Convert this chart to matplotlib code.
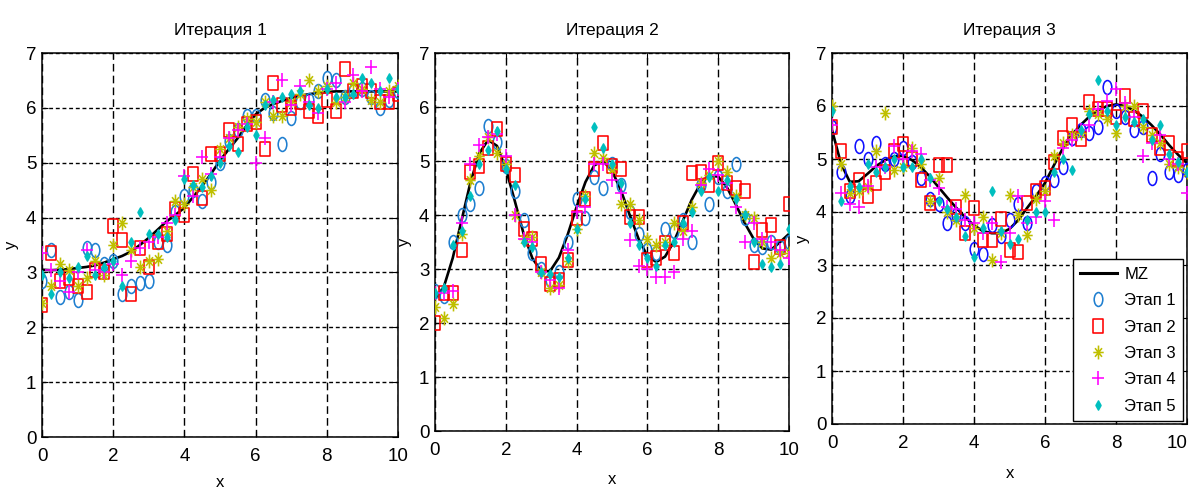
import matplotlib
matplotlib.use("Agg")
import matplotlib.pyplot as plt
import numpy as np
from matplotlib import font_manager
from matplotlib.path import Path
from matplotlib.markers import MarkerStyle
from matplotlib.lines import Line2D

installed = {f.name for f in font_manager.fontManager.ttflist}
main_font = 'Liberation Sans Narrow' if 'Liberation Sans Narrow' in installed else 'Liberation Sans'
plt.rcParams['font.family'] = [main_font, 'DejaVu Sans']

# общая сетка по x
x = np.linspace(0, 10, 41)

titles = ["Итерация 1", "Итерация 2", "Итерация 3"]
labels = ["Этап 1", "Этап 2", "Этап 3", "Этап 4", "Этап 5"]

# итерация 1
mz1 = [3.05, 3.04, 3.05, 3.06, 3.08, 3.10, 3.13, 3.18, 3.24, 3.30, 3.38, 3.50, 3.63, 3.78, 3.93, 4.05,
       4.18, 4.38, 4.58, 4.80, 5.04, 5.25, 5.45, 5.68, 5.88, 6.00, 6.07, 6.13, 6.18, 6.22, 6.25, 6.27,
       6.29, 6.30, 6.30, 6.30, 6.30, 6.30, 6.30, 6.30, 6.30]
s1_1 = [2.85, 3.40, 2.55, 2.65, 2.50, 3.45, 3.40, 3.15, 3.20, 2.60, 2.75, 2.80, 2.85, 3.55, 3.50, 4.10,
        4.40, 4.50, 4.30, 4.65, 5.00, 5.40, 5.60, 5.85, 5.85, 6.15, 5.90, 5.35, 5.82, 6.10, 6.15, 6.30,
        6.55, 6.50, 6.20, 6.30, 6.35, 6.20, 6.00, 6.15, 6.30]
s1_2 = [2.40, 3.35, 2.85, 2.90, 2.75, 2.65, 3.05, 3.00, 3.85, 3.60, 2.60, 3.45, 3.10, 3.55, 3.70, 4.15,
        4.05, 4.80, 4.36, 5.15, 5.15, 5.60, 5.35, 5.70, 5.75, 5.25, 6.45, 6.05, 6.00, 6.10, 5.95, 5.85,
        6.15, 5.95, 6.70, 6.30, 6.40, 6.30, 6.10, 6.10, 6.25]
s1_3 = [2.45, 2.75, 3.15, 3.05, 2.75, 2.90, 3.20, 2.95, 3.50, 3.90, 3.40, 3.10, 3.20, 3.25, 3.75, 4.30,
        4.25, 4.55, 4.70, 4.50, 5.25, 5.45, 5.65, 5.80, 5.75, 6.10, 5.85, 5.85, 6.10, 6.25, 6.50, 6.30,
        6.40, 6.10, 6.20, 6.45, 6.35, 6.15, 6.10, 6.30, 6.40]
s1_4 = [3.35, 3.05, 2.85, 2.65, 3.00, 3.40, 3.05, 3.00, 3.15, 2.95, 3.20, 3.45, 3.55, 3.65, 3.90, 4.05,
        4.75, 4.40, 5.10, 4.80, 5.10, 5.45, 5.60, 5.70, 5.00, 5.45, 6.10, 6.50, 6.05, 6.40, 6.10, 5.90,
        6.35, 6.45, 6.10, 6.60, 6.30, 6.75, 6.35, 6.20, 6.35]
s1_5 = [2.95, 2.60, 3.00, 2.90, 3.10, 3.30, 2.95, 3.10, 3.20, 2.75, 3.55, 4.10, 3.70, 3.70, 3.65, 3.95,
        4.70, 4.60, 4.55, 4.75, 5.00, 5.30, 5.20, 5.65, 5.50, 6.05, 6.15, 6.20, 6.25, 6.30, 6.05, 6.00,
        6.35, 6.20, 6.20, 6.25, 6.55, 6.45, 6.30, 6.55, 6.35]

# итерация 2
mz2 = [2.45, 2.67, 3.20, 3.90, 4.60, 5.14, 5.39, 5.28, 4.86, 4.27, 3.66, 3.20, 2.96, 2.96, 3.21, 3.64,
       4.15, 4.61, 4.92, 5.00, 4.82, 4.46, 4.00, 3.56, 3.24, 3.13, 3.23, 3.51, 3.89, 4.28, 4.58, 4.73,
       4.71, 4.51, 4.19, 3.85, 3.56, 3.38, 3.36, 3.50, 3.65]
s2_1 = [2.60, 2.50, 3.50, 4.00, 4.20, 4.50, 5.65, 5.35, 4.90, 4.45, 3.90, 3.30, 3.00, 2.80, 2.95, 3.50,
        4.30, 3.95, 4.70, 4.50, 4.95, 4.55, 4.05, 3.65, 3.35, 3.30, 3.75, 3.70, 3.90, 3.50, 4.55, 4.20,
        4.70, 4.45, 4.95, 3.95, 3.45, 3.40, 3.50, 3.40, 3.50]
s2_2 = [2.00, 2.55, 2.55, 3.35, 4.80, 4.90, 5.25, 5.60, 4.95, 4.75, 3.75, 3.55, 3.10, 2.73, 2.80, 3.17,
        3.95, 4.30, 4.85, 5.33, 4.90, 4.85, 3.97, 3.97, 3.17, 3.20, 3.48, 3.30, 3.85, 4.77, 4.80, 4.55,
        4.96, 4.60, 4.50, 4.45, 3.13, 3.72, 3.82, 3.41, 4.20]
s2_3 = [2.30, 2.10, 2.35, 3.65, 4.65, 5.10, 5.45, 5.15, 4.95, 4.00, 3.55, 3.60, 2.95, 2.65, 2.70, 3.15,
        3.75, 4.35, 5.15, 5.05, 4.85, 4.20, 4.20, 3.90, 3.55, 3.45, 3.50, 3.85, 3.70, 4.15, 4.60, 4.75,
        5.00, 4.80, 4.35, 4.00, 3.95, 3.50, 3.20, 3.30, 3.30]
s2_4 = [2.55, 2.55, 2.60, 3.85, 4.95, 5.30, 5.45, 5.50, 5.10, 4.00, 3.55, 3.50, 2.95, 2.80, 2.65, 3.35,
        4.05, 4.15, 4.95, 4.95, 4.65, 4.40, 3.53, 3.05, 3.00, 2.85, 2.85, 2.95, 3.55, 3.70, 4.55, 4.85,
        4.75, 4.60, 4.15, 3.50, 3.85, 3.55, 3.50, 3.35, 3.20]
s2_5 = [2.55, 2.65, 3.45, 3.70, 4.35, 4.95, 5.20, 5.55, 4.85, 4.55, 3.50, 3.40, 2.95, 2.90, 2.85, 3.20,
        3.75, 4.30, 5.63, 5.25, 4.95, 4.60, 3.85, 3.45, 3.20, 3.05, 3.45, 3.50, 3.85, 4.05, 4.45, 4.70,
        4.45, 4.65, 4.30, 4.00, 3.50, 3.10, 3.03, 3.10, 3.75]

# итерация 3
mz3 = [5.55, 4.92, 4.57, 4.58, 4.72, 4.87, 4.98, 5.05, 5.06, 4.98, 4.85, 4.67, 4.47, 4.27, 4.08, 3.90,
       3.75, 3.64, 3.60, 3.60, 3.68, 3.85, 4.08, 4.30, 4.55, 4.88, 5.20, 5.45, 5.64, 5.80, 5.92, 6.00,
       6.03, 6.00, 5.92, 5.80, 5.64, 5.46, 5.26, 5.08, 4.92]
s3_1 = [5.60, 4.75, 4.30, 5.25, 5.00, 5.30, 4.90, 5.00, 5.20, 4.95, 4.65, 4.25, 4.15, 3.80, 3.95, 3.80,
        3.30, 3.20, 3.75, 3.55, 3.85, 4.15, 3.80, 4.40, 4.55, 4.60, 4.85, 5.40, 5.55, 5.50, 5.60, 6.35,
        5.90, 5.80, 5.55, 5.60, 4.65, 5.10, 4.75, 4.70, 4.80]
s3_2 = [5.60, 5.15, 4.40, 4.60, 4.30, 4.55, 4.75, 5.15, 5.28, 5.00, 4.60, 4.17, 4.89, 4.89, 4.10, 3.60,
        4.08, 3.47, 3.47, 3.87, 3.28, 3.25, 4.17, 4.40, 4.45, 4.94, 5.40, 5.64, 5.38, 6.08, 5.95, 5.95,
        5.80, 6.18, 5.75, 5.90, 5.45, 5.20, 5.30, 5.00, 5.15]
s3_3 = [6.00, 4.90, 4.35, 4.40, 4.47, 5.15, 5.86, 4.80, 4.85, 5.20, 4.90, 4.20, 4.65, 4.00, 3.85, 4.32,
        3.70, 3.90, 3.10, 3.60, 4.33, 3.95, 3.57, 4.25, 4.40, 5.05, 5.30, 5.45, 5.50, 5.90, 5.85, 5.75,
        5.50, 6.00, 6.00, 5.60, 5.45, 5.30, 4.90, 4.85, 4.75]
s3_4 = [5.65, 4.35, 4.15, 4.10, 4.50, 4.85, 4.85, 5.25, 5.00, 5.15, 5.10, 4.60, 4.45, 4.10, 4.05, 3.85,
        3.80, 3.60, 3.80, 3.05, 3.60, 4.30, 3.80, 3.90, 4.20, 3.85, 5.20, 5.35, 5.55, 5.65, 5.95, 6.10,
        6.32, 6.05, 5.80, 5.05, 5.30, 5.45, 5.00, 4.90, 4.35]
s3_5 = [5.90, 4.20, 4.50, 4.47, 4.90, 4.75, 4.85, 5.00, 4.85, 4.85, 5.00, 4.65, 4.20, 4.05, 3.90, 3.55,
        3.15, 3.70, 4.40, 3.65, 3.40, 3.50, 3.85, 4.00, 4.00, 4.75, 5.00, 4.79, 5.55, 5.85, 6.50, 5.90,
        5.65, 5.80, 5.70, 5.75, 5.35, 5.65, 5.10, 4.95, 4.75]

mz_all = [mz1, mz2, mz3]
series_all = [[s1_1, s1_2, s1_3, s1_4, s1_5],
              [s2_1, s2_2, s2_3, s2_4, s2_5],
              [s3_1, s3_2, s3_3, s3_4, s3_5]]

# маркеры, вытянутые по вертикали как на исходной картинке
m_circle = MarkerStyle(Path(Path.unit_circle().vertices * [0.62, 1.0], Path.unit_circle().codes))
m_square = MarkerStyle(Path([(-0.7, -1), (0.7, -1), (0.7, 1), (-0.7, 1), (-0.7, -1)],
                            [Path.MOVETO, Path.LINETO, Path.LINETO, Path.LINETO, Path.CLOSEPOLY]))
m_star = MarkerStyle(Path([(0, -1), (0, 1), (-0.75, 0), (0.75, 0), (-0.5, -0.62), (0.5, 0.62),
                           (-0.5, 0.62), (0.5, -0.62)],
                          [Path.MOVETO, Path.LINETO] * 4))
m_plus = MarkerStyle(Path([(0, -1), (0, 1), (-0.8, 0), (0.8, 0)], [Path.MOVETO, Path.LINETO] * 2))
m_diam = MarkerStyle(Path([(0, -1), (0.55, 0), (0, 1), (-0.55, 0), (0, -1)],
                          [Path.MOVETO, Path.LINETO, Path.LINETO, Path.LINETO, Path.CLOSEPOLY]))

markers = [m_circle, m_square, m_star, m_plus, m_diam]
sizes = [10, 10.5, 10, 10, 6.5]
colors = ['#1f7fd0', '#ff0000', '#bfbf00', '#ff00ff', '#00bfbf']
blue3 = '#1010ff'

fig = plt.figure(figsize=(11.89, 4.93), dpi=100)
W, H = 1189.0, 493.0
# положение осей в пикселях: left, right, top, bottom
boxes = [(42, 398, 53, 437), (435, 789, 53, 431), (832, 1187, 53, 424)]
xlab_y = [475, 472, 466]
ylab_x = [19, 412, 810]

for i, (l, r, t, b) in enumerate(boxes):
    ax = fig.add_axes([l / W, (H - b) / H, (r - l) / W, (b - t) / H])
    ax.plot(x, mz_all[i], color='k', lw=1.9, zorder=2)
    for j in range(5):
        c = colors[j]
        if i == 2 and j == 0:
            c = blue3
        fc = c if j == 4 else 'none'
        ax.plot(x, series_all[i][j], ls='none', marker=markers[j], ms=sizes[j],
                mec=c, mfc=fc, mew=1.15, zorder=3)
    ax.set_xlim(0, 10)
    ax.set_ylim(0, 7)
    ax.set_xticks([0, 2, 4, 6, 8, 10])
    ax.set_yticks(range(8))
    ax.tick_params(direction='in', length=4, width=0.8, top=True, right=True,
                   labelsize=13.5, colors='k')
    ax.tick_params(axis='x', pad=8)
    ax.tick_params(axis='y', pad=4)
    ax.xaxis.grid(True, color='k', lw=1.0, linestyle=(0, (5.5, 3)))
    ax.yaxis.grid(True, color='k', lw=1.0, linestyle=(0, (2.8, 2)))
    ax.set_axisbelow(True)
    for sp in ax.spines.values():
        sp.set_linewidth(1.1)
        sp.set_color('k')
    ax.set_title(titles[i], fontsize=12.5, pad=13)
    ax.set_xlabel('x', fontsize=12)
    ax.set_ylabel('y', fontsize=12)
    ax.xaxis.set_label_coords(0.5, -(xlab_y[i] - b) / (b - t))
    ax.yaxis.set_label_coords(-(l - ylab_x[i]) / (r - l), 0.5)

    if i == 2:
        # последняя подпись у правого края
        ax.get_xticklabels()[-1].set_horizontalalignment('right')
        handles = [Line2D([], [], color='k', lw=2.2)]
        for j in range(5):
            fc = colors[j] if j == 4 else 'none'
            handles.append(Line2D([], [], ls='none', marker=markers[j], ms=sizes[j],
                                  mec=colors[j], mfc=fc, mew=1.15))
        leg = ax.legend(handles, ['MZ'] + labels, loc='lower right', bbox_to_anchor=(0.99, 0.008),
                        borderaxespad=0, fontsize=12, frameon=True, fancybox=False,
                        edgecolor='k', framealpha=1, labelspacing=0.68, handlelength=2.2,
                        handletextpad=0.45, borderpad=0.45)
        leg.get_frame().set_linewidth(1.0)
        leg.set_zorder(10)

fig.savefig('out.png', dpi=100)
